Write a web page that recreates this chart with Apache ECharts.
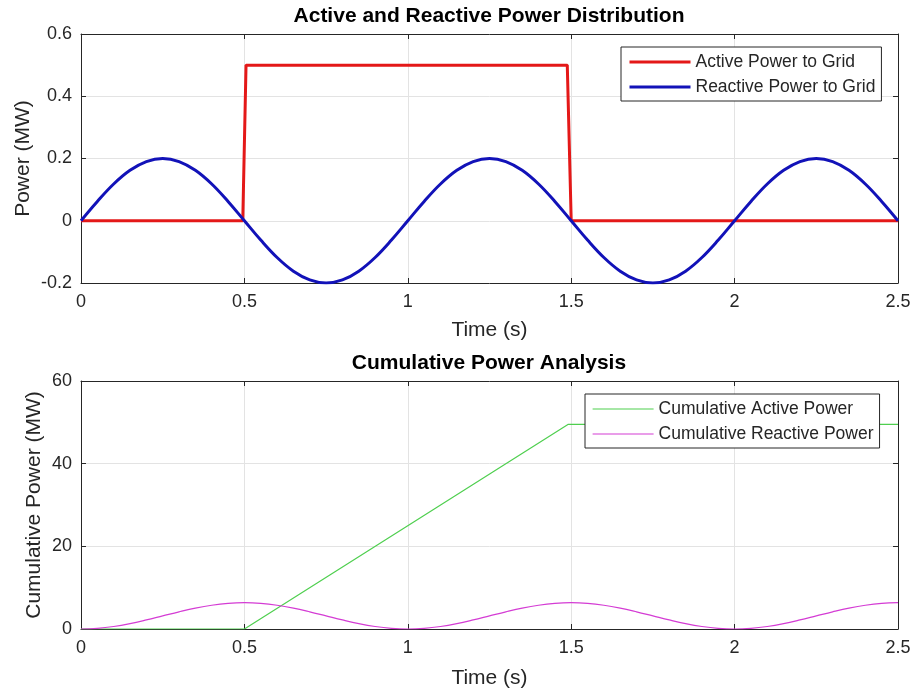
<!DOCTYPE html>
<html>
<head>
<meta charset="utf-8">
<script src="https://cdn.jsdelivr.net/npm/echarts@6/dist/echarts.min.js"></script>
<style>
html, body { margin: 0; padding: 0; background: #fff; }
#main { width: 914px; height: 690px; }
</style>
</head>
<body>
<div id="main"></div>
<script>
// time grid for the sampled curves (0.05 s steps, 0..2.5 s)
var timeSamples = [0, 0.05, 0.1, 0.15, 0.2, 0.25, 0.3, 0.35, 0.4, 0.45,
    0.5, 0.55, 0.6, 0.65, 0.7, 0.75, 0.8, 0.85, 0.9, 0.95,
    1, 1.05, 1.1, 1.15, 1.2, 1.25, 1.3, 1.35, 1.4, 1.45,
    1.5, 1.55, 1.6, 1.65, 1.7, 1.75, 1.8, 1.85, 1.9, 1.95,
    2, 2.05, 2.1, 2.15, 2.2, 2.25, 2.3, 2.35, 2.4, 2.45, 2.5];

// reactive power to grid (MW)
var reactivePower = [0, 0.062, 0.118, 0.162, 0.190, 0.200, 0.190, 0.162, 0.118, 0.062,
    0, -0.062, -0.118, -0.162, -0.190, -0.200, -0.190, -0.162, -0.118, -0.062,
    0, 0.062, 0.118, 0.162, 0.190, 0.200, 0.190, 0.162, 0.118, 0.062,
    0, -0.062, -0.118, -0.162, -0.190, -0.200, -0.190, -0.162, -0.118, -0.062,
    0, 0.062, 0.118, 0.162, 0.190, 0.200, 0.190, 0.162, 0.118, 0.062, 0];

// cumulative reactive power (MW)
var cumReactive = [0, 0.16, 0.61, 1.31, 2.20, 3.18, 4.16, 5.05, 5.75, 6.20,
    6.36, 6.20, 5.75, 5.05, 4.16, 3.18, 2.20, 1.31, 0.61, 0.16,
    0, 0.16, 0.61, 1.31, 2.20, 3.18, 4.16, 5.05, 5.75, 6.20,
    6.36, 6.20, 5.75, 5.05, 4.16, 3.18, 2.20, 1.31, 0.61, 0.16,
    0, 0.16, 0.61, 1.31, 2.20, 3.18, 4.16, 5.05, 5.75, 6.20, 6.36];

// active power to grid: step pulse
var activeTimes = [0, 0.495, 0.505, 1.488, 1.500, 2.5];
var activePower = [0, 0, 0.5, 0.5, 0, 0];

// cumulative active power: ramp then flat
var cumActiveTimes = [0, 0.5, 1.49, 2.5];
var cumActive = [0, 0, 49.5, 49.5];

function pairs(xs, ys) {
    var out = [];
    for (var i = 0; i < xs.length; i++) {
        out.push([xs[i], ys[i]]);
    }
    return out;
}

var chart = echarts.init(document.getElementById("main"));

var txt = "#262626";
var fontFam = "Liberation Sans, Arial, sans-serif";

function xAx(gridIndex, showName, gap) {
    return {
        type: "value", gridIndex: gridIndex, min: 0, max: 2.5, interval: 0.5,
        name: showName ? "Time (s)" : "", nameLocation: "middle", nameGap: gap,
        nameMoveOverlap: false,
        nameTextStyle: { color: txt, fontSize: 21, fontFamily: fontFam },
        axisLine: { show: true, onZero: false, lineStyle: { color: txt, width: 1 } },
        axisTick: { show: true, inside: true, length: 5, lineStyle: { color: txt } },
        axisLabel: { show: showName, color: txt, fontSize: 18, fontFamily: fontFam, margin: 10 },
        splitLine: { show: showName, lineStyle: { color: "#e3e3e3", width: 1 } }
    };
}

function yAx(gridIndex, min, max, step, name, gap) {
    return {
        type: "value", gridIndex: gridIndex, min: min, max: max, interval: step,
        name: name, nameLocation: "middle", nameGap: gap,
        nameMoveOverlap: false,
        nameTextStyle: { color: txt, fontSize: 21, fontFamily: fontFam },
        axisLine: { show: true, onZero: false, lineStyle: { color: txt } },
        axisTick: { show: true, inside: true, length: 5, lineStyle: { color: txt } },
        axisLabel: { color: txt, fontSize: 18, fontFamily: fontFam, margin: 9 },
        splitLine: { show: true, lineStyle: { color: "#e3e3e3" } }
    };
}

function yRight(gridIndex, min, max, step) {
    return {
        type: "value", gridIndex: gridIndex, min: min, max: max, interval: step, position: "right",
        axisLine: { show: true, onZero: false, lineStyle: { color: txt } },
        axisTick: { show: true, inside: true, length: 5, lineStyle: { color: txt } },
        axisLabel: { show: false }, splitLine: { show: false }
    };
}

function legendBox(names, left, top, lineW) {
    return {
        data: names,
        orient: "vertical", left: left, top: top,
        itemWidth: 61, itemHeight: 18, itemGap: 7,
        padding: [6, 6, 5, 7],
        borderColor: txt, borderWidth: 1, borderRadius: 0,
        backgroundColor: "#fff",
        itemStyle: { opacity: 0 },
        lineStyle: { width: lineW },
        textStyle: { color: txt, fontSize: 17.5, fontFamily: fontFam }
    };
}

var option = {
    backgroundColor: "#fff",
    animation: false,
    title: [{
        text: "Active and Reactive Power Distribution",
        left: 489, top: 6, padding: 0, textAlign: "center",
        textStyle: { color: "#000", fontSize: 21, fontWeight: "bold", fontFamily: fontFam }
    }, {
        text: "Cumulative Power Analysis",
        left: 489, top: 353, padding: 0, textAlign: "center",
        textStyle: { color: "#000", fontSize: 21, fontWeight: "bold", fontFamily: fontFam }
    }],
    grid: [
        { left: 81, top: 34, width: 817, height: 249, containLabel: false },
        { left: 81, top: 381, width: 817, height: 248, containLabel: false }
    ],
    legend: [
        legendBox(["Active Power to Grid", "Reactive Power to Grid"], 621, 47, 3),
        legendBox(["Cumulative Active Power", "Cumulative Reactive Power"], 585, 394, 1.2)
    ],
    xAxis: [
        xAx(0, true, 37),
        Object.assign(xAx(0, false, 0), { position: "top" }),
        xAx(1, true, 39),
        Object.assign(xAx(1, false, 0), { position: "top" })
    ],
    yAxis: [
        yAx(0, -0.2, 0.6, 0.2, "Power (MW)", 47),
        yRight(0, -0.2, 0.6, 0.2),
        yAx(1, 0, 60, 20, "Cumulative Power (MW)", 36),
        yRight(1, 0, 60, 20)
    ],
    series: [{
        name: "Active Power to Grid", type: "line", xAxisIndex: 0, yAxisIndex: 0,
        data: pairs(activeTimes, activePower), symbol: "none",
        itemStyle: { color: "#e41818" },
        lineStyle: { color: "#e41818", width: 3 }, z: 3
    }, {
        name: "Reactive Power to Grid", type: "line", xAxisIndex: 0, yAxisIndex: 0,
        data: pairs(timeSamples, reactivePower), symbol: "none", smooth: 0.4,
        itemStyle: { color: "#1212b8" },
        lineStyle: { color: "#1212b8", width: 3 }, z: 4
    }, {
        name: "Cumulative Active Power", type: "line", xAxisIndex: 2, yAxisIndex: 2,
        data: pairs(cumActiveTimes, cumActive), symbol: "none",
        itemStyle: { color: "#4fcf4f" },
        lineStyle: { color: "#4fcf4f", width: 1.2 }, z: 3
    }, {
        name: "Cumulative Reactive Power", type: "line", xAxisIndex: 2, yAxisIndex: 2,
        data: pairs(timeSamples, cumReactive), symbol: "none", smooth: 0.4,
        itemStyle: { color: "#d43cd4" },
        lineStyle: { color: "#d43cd4", width: 1.2 }, z: 4
    }]
};

chart.setOption(option);
</script>
</body>
</html>
